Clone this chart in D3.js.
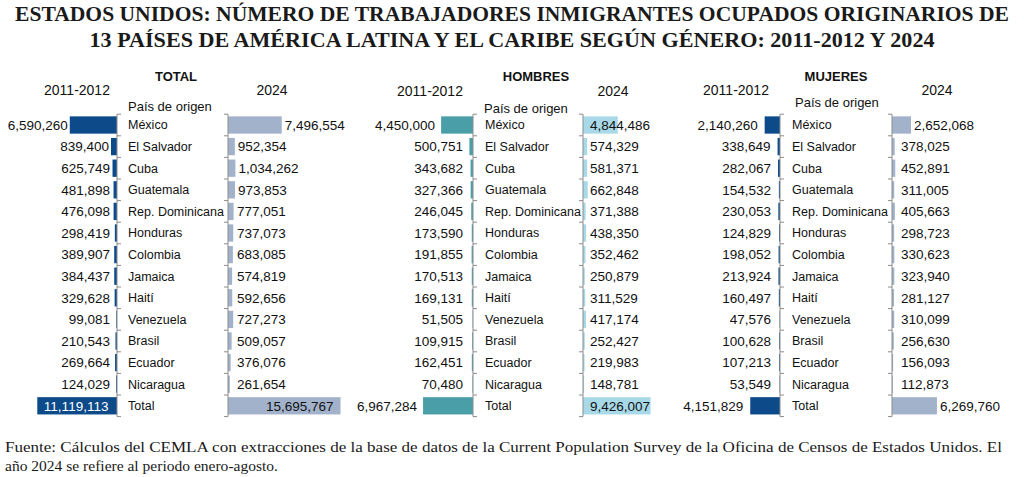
<!DOCTYPE html>
<html>
<head>
<meta charset="utf-8">
<script src="https://cdn.jsdelivr.net/npm/d3@7"></script>
<style>
  html, body { margin: 0; padding: 0; background: #fff; }
  svg { display: block; }
</style>
</head>
<body>
<svg id="chart" width="1024" height="477"></svg>
<script>
// ---------- DATA ----------
const countries = ["México","El Salvador","Cuba","Guatemala","Rep. Dominicana","Honduras","Colombia","Jamaica","Haití","Venezuela","Brasil","Ecuador","Nicaragua","Total"];
const total2011   = [6590260,839400,625749,481898,476098,298419,389907,384437,329628,99081,210543,269664,124029,11119113];
const total2024   = [7496554,952354,1034262,973853,777051,737073,683085,574819,592656,727273,509057,376076,261654,15695767];
const hombres2011 = [4450000,500751,343682,327366,246045,173590,191855,170513,169131,51505,109915,162451,70480,6967284];
const hombres2024 = [4844486,574329,581371,662848,371388,438350,352462,250879,311529,417174,252427,219983,148781,9426007];
const mujeres2011 = [2140260,338649,282067,154532,230053,124829,198052,213924,160497,47576,100628,107213,53549,4151829];
const mujeres2024 = [2652068,378025,452891,311005,405663,298723,330623,323940,281127,310099,256630,156093,112873,6269760];
const panelTitles = ["TOTAL","HOMBRES","MUJERES"];
const periodLabels = ["2011-2012","2024"];
const rowHeader = "País de origen";
const titleLines = [
  "ESTADOS UNIDOS: NÚMERO DE TRABAJADORES INMIGRANTES OCUPADOS ORIGINARIOS DE",
  "13 PAÍSES DE AMÉRICA LATINA Y EL CARIBE SEGÚN GÉNERO: 2011-2012 Y 2024"
];
const footLines = [
  "Fuente: Cálculos del CEMLA con extracciones de la base de datos de la Current Population Survey de la Oficina de Censos de Estados Unidos. El",
  "año 2024 se refiere al periodo enero-agosto."
];

// ---------- LAYOUT ----------
const svg = d3.select("#chart");
const fmt = d3.format(",");
const x = d3.scaleLinear().domain([0, 16e6]).range([0, 114.7]);
const y = d3.scaleBand().domain(countries).range([114.2, 416.6]).paddingInner(0.2).paddingOuter(0.1);
const step = y.step();

const panels = [
  { title: panelTitles[0], left: total2011, right: total2024, axL: 117, axR: 228,
    colL: "#0c4a89", colR: "#a3b2cb", titleX: 176, hL: 77, hR: 272, hY: 95, catX: 128, rhX: 128, rhY: 111,
    leftGap: 2, leftMin: 7, leftTotalInside: true, rightMode: "outside", rightTotalInside: true },
  { title: panelTitles[1], left: hombres2011, right: hombres2024, axL: 473, axR: 583,
    colL: "#4a9ea8", colR: "#a8d9e8", titleX: 536, hL: 430, hR: 613, hY: 96, catX: 485, rhX: 484, rhY: 113,
    leftGap: 6, leftMin: 10, leftTotalInside: false, rightMode: "base", rightTotalInside: false },
  { title: panelTitles[2], left: mujeres2011, right: mujeres2024, axL: 780, axR: 892,
    colL: "#0c4a89", colR: "#a3b2cb", titleX: 836, hL: 736, hR: 937, hY: 95, catX: 792, rhX: 795, rhY: 107,
    leftGap: 7, leftMin: 9, leftTotalInside: false, rightMode: "outside", rightTotalInside: false }
];

const sans = "Liberation Sans, Arial, sans-serif";
const serif = "Liberation Serif, Times New Roman, serif";

// Title
svg.selectAll("text.title").data(titleLines).join("text")
  .attr("class", "title")
  .attr("x", 512).attr("y", (d, i) => i === 0 ? 21 : 47)
  .attr("text-anchor", "middle")
  .attr("font-family", serif).attr("font-size", 21).attr("font-weight", "bold")
  .attr("fill", "#1a1a1a")
  .attr("textLength", (d, i) => i === 0 ? 994 : 845)
  .attr("lengthAdjust", "spacingAndGlyphs")
  .text(d => d);

// Footer
svg.selectAll("text.foot").data(footLines).join("text")
  .attr("class", "foot")
  .attr("x", 5).attr("y", (d, i) => i === 0 ? 452 : 471)
  .attr("font-family", serif).attr("font-size", 15.5)
  .attr("fill", "#1a1a1a")
  .attr("textLength", (d, i) => i === 0 ? 997 : 273)
  .attr("lengthAdjust", "spacingAndGlyphs")
  .text(d => d);

const cy = c => y(c) + y.bandwidth() / 2;

panels.forEach(p => {
  const g = svg.append("g");
  const n = countries.length;

  // headers
  g.append("text").attr("x", p.titleX).attr("y", 80.7).attr("text-anchor", "middle")
    .attr("font-family", sans).attr("font-size", 13).attr("font-weight", "bold").attr("fill", "#111")
    .text(p.title);
  g.append("text").attr("x", p.hL).attr("y", p.hY).attr("text-anchor", "middle")
    .attr("font-family", sans).attr("font-size", 14).attr("fill", "#111").text(periodLabels[0]);
  g.append("text").attr("x", p.hR).attr("y", p.hY).attr("text-anchor", "middle")
    .attr("font-family", sans).attr("font-size", 14).attr("fill", "#111").text(periodLabels[1]);
  g.append("text").attr("x", p.rhX).attr("y", p.rhY)
    .attr("font-family", sans).attr("font-size", 13).attr("fill", "#111").text(rowHeader);

  // bars left
  g.selectAll("rect.l").data(countries).join("rect").attr("class", "l")
    .attr("x", (c, i) => p.axL - x(p.left[i]))
    .attr("y", c => y(c))
    .attr("width", (c, i) => x(p.left[i]))
    .attr("height", y.bandwidth())
    .attr("fill", p.colL);
  // bars right
  g.selectAll("rect.r").data(countries).join("rect").attr("class", "r")
    .attr("x", p.axR)
    .attr("y", c => y(c))
    .attr("width", (c, i) => x(p.right[i]))
    .attr("height", y.bandwidth())
    .attr("fill", p.colR);

  // axes (vertical line + ticks at band boundaries, pointing inward)
  const y0 = y.range()[0], y1 = y.range()[1];
  const bounds = d3.range(n + 1).map(k => y0 + k * step);
  [[p.axL, 4], [p.axR, -4]].forEach(([ax, dir]) => {
    g.append("line").attr("x1", ax).attr("x2", ax).attr("y1", y0).attr("y2", y1)
      .attr("stroke", "#8c8c8c").attr("stroke-width", 1);
    g.selectAll(null).data(bounds).join("line")
      .attr("x1", ax).attr("x2", ax + dir).attr("y1", d => d).attr("y2", d => d)
      .attr("stroke", "#8c8c8c").attr("stroke-width", 1);
  });

  // category labels
  g.selectAll("text.cat").data(countries).join("text").attr("class", "cat")
    .attr("x", p.catX).attr("y", c => cy(c)).attr("dy", "0.35em")
    .attr("font-family", sans).attr("font-size", 12.5).attr("fill", "#111")
    .text(c => c);

  // left value labels
  g.selectAll("text.vl").data(countries).join("text").attr("class", "vl")
    .each(function(c, i) {
      const v = p.left[i];
      const start = p.axL - x(v);
      const t = d3.select(this);
      if (i === n - 1 && p.leftTotalInside) {
        t.attr("x", (start + p.axL) / 2 - 1).attr("text-anchor", "middle").attr("fill", "#fff");
      } else {
        t.attr("x", Math.min(start - p.leftGap, p.axL - p.leftMin)).attr("text-anchor", "end").attr("fill", "#111");
      }
    })
    .attr("y", c => cy(c)).attr("dy", "0.35em")
    .attr("font-family", sans).attr("font-size", 13.5)
    .text((c, i) => fmt(p.left[i]));

  // right value labels
  g.selectAll("text.vr").data(countries).join("text").attr("class", "vr")
    .each(function(c, i) {
      const v = p.right[i];
      const end = p.axR + x(v);
      const t = d3.select(this);
      if (i === n - 1 && p.rightTotalInside) {
        t.attr("x", end - 7).attr("text-anchor", "end");
      } else if (p.rightMode === "base") {
        t.attr("x", p.axR + 7).attr("text-anchor", "start");
      } else {
        t.attr("x", Math.max(end + 3, p.axR + 9)).attr("text-anchor", "start");
      }
    })
    .attr("y", c => cy(c)).attr("dy", "0.35em")
    .attr("font-family", sans).attr("font-size", 13.5).attr("fill", "#111")
    .text((c, i) => fmt(p.right[i]));
});
</script>
</body>
</html>
